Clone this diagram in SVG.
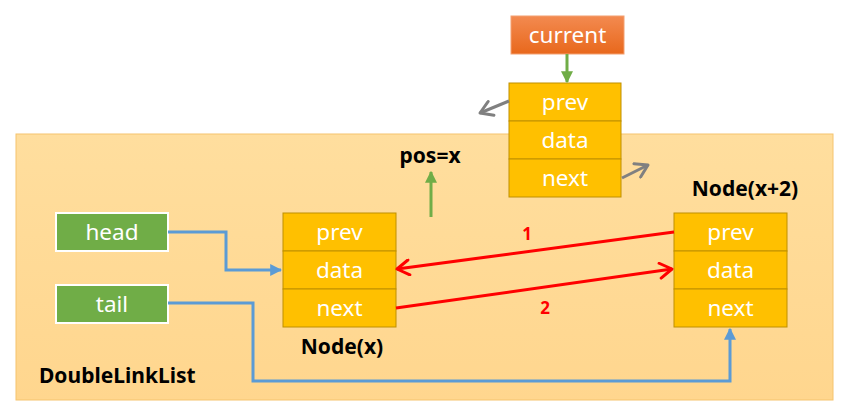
<svg xmlns="http://www.w3.org/2000/svg" width="850" height="417" viewBox="0 0 850 417">
<defs>
<linearGradient id="bg" x1="0" y1="0" x2="0" y2="1"><stop offset="0" stop-color="#FFDE9E"/><stop offset="1" stop-color="#FFD68E"/></linearGradient>
<linearGradient id="og" x1="0" y1="0" x2="0" y2="1"><stop offset="0" stop-color="#F38A50"/><stop offset="1" stop-color="#E8681C"/></linearGradient>
<marker id="blue" viewBox="0 0 10 10" refX="9" refY="5" markerWidth="4" markerHeight="4" orient="auto" markerUnits="strokeWidth"><path d="M0,0 L10,5 L0,10 Z" fill="#5B9BD5"/></marker>
<marker id="green" viewBox="0 0 10 10" refX="9" refY="5" markerWidth="4" markerHeight="4" orient="auto" markerUnits="strokeWidth"><path d="M0,0 L10,5 L0,10 Z" fill="#70AD47"/></marker>
<marker id="red" viewBox="0 0 12 12" refX="10" refY="6" markerWidth="6" markerHeight="6" orient="auto" markerUnits="strokeWidth"><path d="M2,1 L10,6 L2,11" fill="none" stroke="#FF0000" stroke-width="2" stroke-linecap="round" stroke-linejoin="round"/></marker>
<marker id="gray" viewBox="0 0 12 12" refX="10" refY="6" markerWidth="6" markerHeight="6" orient="auto" markerUnits="strokeWidth"><path d="M2,1 L10,6 L2,11" fill="none" stroke="#808080" stroke-width="2" stroke-linecap="round" stroke-linejoin="round"/></marker>
</defs>
<style>
text{font-family:"Noto Sans","Liberation Sans",sans-serif}
.cell{fill:#FFC000;stroke:#BF9000;stroke-width:1}
.ct{fill:#fff;font-size:22.5px;text-anchor:middle}
.lbl{fill:#000;font-size:21px;font-weight:bold}
.ptr{fill:#70AD47;stroke:#fff;stroke-width:2}
.num{fill:#FF0000;font-size:17px;font-weight:bold;text-anchor:middle}
</style>
<rect x="16" y="134" width="817" height="266" fill="url(#bg)" stroke="#F5C46E" stroke-width="1"/>
<g id="current">
<rect x="511" y="16" width="113" height="38" fill="url(#og)" stroke="#F4A070" stroke-width="1"/>
<text class="ct" x="567.5" y="43">current</text>
</g>
<g id="node-current">
<rect class="cell" x="509" y="83" width="112" height="38"/>
<rect class="cell" x="509" y="121" width="112" height="38"/>
<rect class="cell" x="509" y="159" width="112" height="38"/>
<text class="ct" x="565" y="110">prev</text>
<text class="ct" x="565" y="148">data</text>
<text class="ct" x="565" y="186">next</text>
</g>
<g id="node-x">
<rect class="cell" x="283" y="213" width="113" height="38"/>
<rect class="cell" x="283" y="251" width="113" height="38"/>
<rect class="cell" x="283" y="289" width="113" height="38"/>
<text class="ct" x="339.5" y="240">prev</text>
<text class="ct" x="339.5" y="278">data</text>
<text class="ct" x="339.5" y="316">next</text>
<text class="lbl" x="342" y="354" text-anchor="middle">Node(x)</text>
</g>
<g id="node-x2">
<rect class="cell" x="674" y="213" width="113" height="38"/>
<rect class="cell" x="674" y="251" width="113" height="38"/>
<rect class="cell" x="674" y="289" width="113" height="38"/>
<text class="ct" x="730.5" y="240">prev</text>
<text class="ct" x="730.5" y="278">data</text>
<text class="ct" x="730.5" y="316">next</text>
<text class="lbl" x="745" y="196" text-anchor="middle">Node(x+2)</text>
</g>
<g id="head">
<rect class="ptr" x="56" y="213" width="112" height="38"/>
<text class="ct" x="112" y="240">head</text>
</g>
<g id="tail">
<rect class="ptr" x="56" y="285" width="112" height="38"/>
<text class="ct" x="112" y="312">tail</text>
</g>
<g id="pos">
<text class="lbl" x="430" y="163" text-anchor="middle">pos=x</text>
</g>
<g id="list-label">
<text class="lbl" x="39" y="383">DoubleLinkList</text>
</g>
<g id="connectors">
<line x1="567" y1="54" x2="567" y2="82" stroke="#70AD47" stroke-width="3" marker-end="url(#green)"/>
<line x1="431" y1="217" x2="431" y2="172" stroke="#70AD47" stroke-width="3" marker-end="url(#green)"/>
<line x1="509" y1="101" x2="480" y2="113" stroke="#808080" stroke-width="3" marker-end="url(#gray)"/>
<line x1="622" y1="178" x2="648" y2="165" stroke="#808080" stroke-width="3" marker-end="url(#gray)"/>
<polyline points="168,232 226,232 226,270 281,270" fill="none" stroke="#5B9BD5" stroke-width="3" marker-end="url(#blue)"/>
<polyline points="168,303 253,303 253,381 730,381 730,329" fill="none" stroke="#5B9BD5" stroke-width="3" marker-end="url(#blue)"/>
<line x1="674" y1="232" x2="397" y2="269" stroke="#FF0000" stroke-width="3" marker-end="url(#red)"/>
<line x1="396" y1="308" x2="672" y2="269" stroke="#FF0000" stroke-width="3" marker-end="url(#red)"/>
<text class="num" x="527" y="240">1</text>
<text class="num" x="545" y="314">2</text>
</g>
</svg>
